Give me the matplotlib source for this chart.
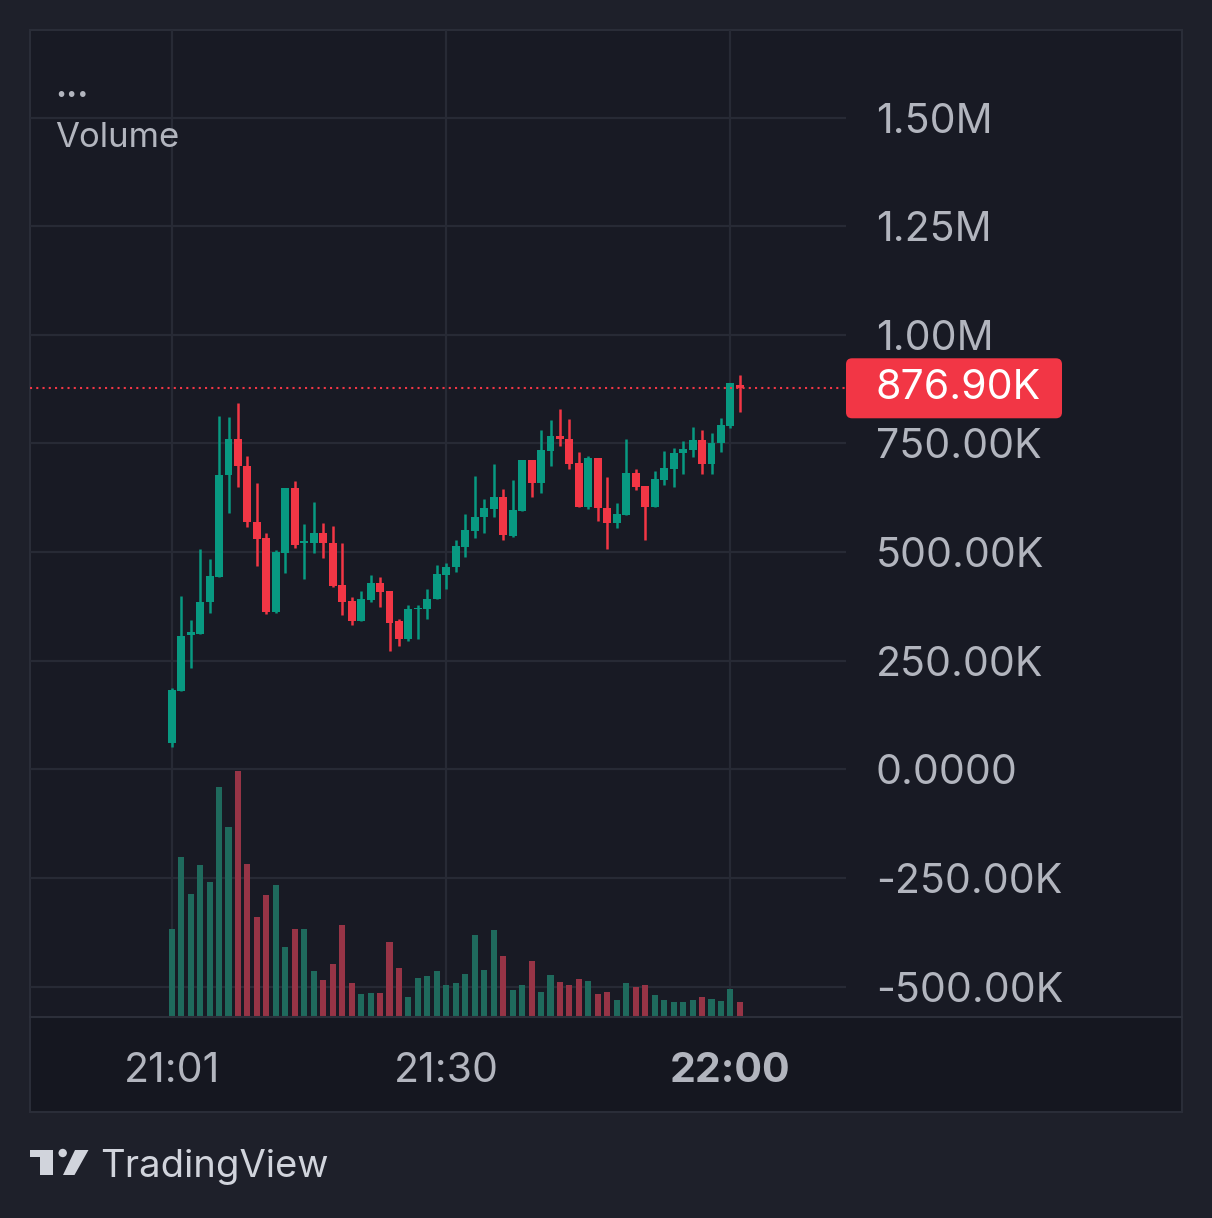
import matplotlib.pyplot as plt
import matplotlib.transforms as mtransforms
from matplotlib.patches import Rectangle, Polygon, Circle, FancyBboxPatch
from matplotlib.lines import Line2D

# 1-minute candles, 21:01 .. 22:01 (values in K)
minutes = list(range(1, 62))
opens = [61, 180, 309, 312, 384, 443, 677, 760, 698, 570,
         533, 362, 497, 647, 520, 521, 543, 520, 424, 388,
         342, 389, 429, 410, 342, 299, 368, 369, 392, 447,
         466, 512, 549, 580, 599, 626, 538, 595, 712, 660,
         733, 767, 760, 704, 604, 716, 602, 567, 585, 683,
         652, 603, 666, 691, 727, 735, 758, 703, 750, 790,
         885]
highs = [186, 399, 343, 506, 483, 813, 810, 844, 721, 658,
         543, 505, 647, 664, 564, 616, 568, 561, 521, 397,
         410, 447, 442, 410, 347, 378, 378, 416, 470, 474,
         528, 588, 675, 622, 703, 644, 666, 712, 712, 781,
         804, 829, 806, 730, 720, 716, 672, 612, 760, 690,
         652, 687, 733, 739, 756, 787, 781, 773, 808, 889,
         908]
lows = [51, 180, 234, 312, 359, 443, 590, 650, 557, 468,
        357, 360, 452, 510, 439, 498, 487, 420, 355, 332,
        342, 385, 373, 273, 283, 296, 301, 347, 392, 416,
        455, 488, 532, 544, 581, 528, 535, 595, 627, 637,
        698, 743, 691, 604, 600, 572, 508, 555, 585, 643,
        528, 603, 654, 650, 680, 718, 680, 680, 731, 785,
        823]
closes = [182, 306, 315, 384, 445, 677, 760, 698, 570, 530,
          362, 499, 647, 516, 525, 543, 520, 422, 385, 342,
          391, 428, 408, 337, 301, 370, 372, 393, 449, 466,
          514, 551, 580, 601, 626, 539, 597, 712, 660, 735,
          766, 760, 703, 604, 717, 601, 567, 588, 683, 649,
          603, 668, 693, 729, 737, 758, 703, 752, 793, 889,
          876.9]
volume = [88, 160, 123, 152, 135, 230, 190, 246, 153, 100,
          122, 132, 70, 88, 88, 46, 37, 53, 92, 34,
          23, 24, 24, 75, 49, 20, 39, 41, 46, 32,
          34, 43, 82, 47, 87, 61, 27, 32, 56, 25,
          42, 35, 32, 38, 36, 23, 25, 17, 34, 30,
          32, 22, 17, 15, 15, 17, 20, 18, 16, 28,
          15]

price_ticks = [1500, 1250, 1000, 750, 500, 250, 0, -250, -500]
price_labels = ['1.50M', '1.25M', '1.00M', '750.00K', '500.00K', '250.00K',
                '0.0000', '-250.00K', '-500.00K']
time_ticks = [1, 30, 60]
time_labels = ['21:01', '21:30', '22:00']
last_label = '876.90K'

UP, DOWN = '#089981', '#f23645'
VOL_UP, VOL_DOWN = '#1f6a5d', '#973446'
TXT = '#b2b5be'
GRID = '#272a35'

plt.rcParams['font.family'] = ['Inter', 'DejaVu Sans']

W, H = 1212, 1218
def fx(x):
    return x / W
def fy(y):
    return 1 - y / H

fig = plt.figure(figsize=(W / 100, H / 100), dpi=100, facecolor='#1e202a')

# chart panel and time-axis strip
fig.add_artist(Rectangle((fx(30), fy(1112)), fx(1182) - fx(30), fy(30) - fy(1112),
                         transform=fig.transFigure, facecolor='#181a24',
                         edgecolor='#2a2d38', lw=1.5, zorder=-2))
fig.add_artist(Rectangle((fx(31), fy(1111)), fx(1181) - fx(31), fy(1017) - fy(1111),
                         transform=fig.transFigure, facecolor='#151720',
                         edgecolor='none', zorder=-1))
fig.add_artist(Line2D([fx(30), fx(1182)], [fy(1017), fy(1017)],
                      transform=fig.transFigure, color='#2c2f3a', lw=1.5))

rect = [fx(30), fy(1017), fx(846) - fx(30), fy(30) - fy(1017)]
gax = fig.add_axes(rect)
vax = fig.add_axes(rect, sharex=gax)
ax = fig.add_axes(rect, sharex=gax, sharey=gax)
for a in (gax, vax, ax):
    a.patch.set_visible(False)
    for s in a.spines.values():
        s.set_visible(False)

up = [c >= o for o, c in zip(opens, closes)]
colors = [UP if u else DOWN for u in up]
vcolors = [VOL_UP if u else VOL_DOWN for u in up]

# volume
vax.bar(minutes, volume, width=0.64, color=vcolors, linewidth=0)
vax.set_ylim(0, max(volume) / 0.249)
vax.axis('off')

# candles
ax.vlines(minutes, lows, highs, colors=colors, lw=1.8)
ax.bar(minutes, [abs(c - o) for o, c in zip(opens, closes)],
       bottom=[min(o, c) for o, c in zip(opens, closes)],
       width=0.84, color=colors, linewidth=0)

ax.set_xlim(-13.96, 72.2)
ax.set_ylim(-570.1, 1701.5)
ax.set_yticks(price_ticks, price_labels)
ax.set_xticks(time_ticks, time_labels)
ax.yaxis.tick_right()
ax.tick_params(axis='y', length=0, pad=21.5, labelsize=29.5, labelcolor=TXT)
ax.tick_params(axis='x', length=0, pad=25, labelsize=29.5, labelcolor=TXT)
ax.get_xticklabels()[2].set_fontweight('bold')

gax.tick_params(which='both', length=0, labelleft=False, labelbottom=False,
                labelright=False)
gax.grid(True, color=GRID, lw=1.6)

# last price line and label
last = closes[-1]
ax.axhline(last, color=DOWN, lw=1.5, linestyle=(0, (1, 2)), dash_capstyle='butt')
yc = ax.transData.transform((0, last))[1]
fig.add_artist(FancyBboxPatch((846, yc - 30), 216, 60,
                              boxstyle='round,pad=0,rounding_size=6',
                              transform=mtransforms.IdentityTransform(),
                              facecolor=DOWN, edgecolor='none', zorder=4))
fig.text(876, yc, last_label, transform=mtransforms.IdentityTransform(),
         ha='left', va='center', fontsize=29.5, color='white', zorder=5)

# legend text
fig.text(fx(55), fy(97), '...', fontsize=24, color=TXT, fontweight='bold')
fig.text(fx(55), fy(147), 'Volume', fontsize=25, color=TXT, va='baseline')

# TradingView logo
LOGO = '#d1d4dc'
fig.add_artist(Polygon([(fx(30), fy(1150)), (fx(53), fy(1150)), (fx(53), fy(1175)),
                        (fx(40), fy(1175)), (fx(40), fy(1157)), (fx(30), fy(1157))],
                       closed=True, transform=fig.transFigure, facecolor=LOGO,
                       edgecolor='none'))
fig.add_artist(Circle((62.7, H - 1153), 4.2, transform=mtransforms.IdentityTransform(),
                      facecolor=LOGO, edgecolor='none'))
fig.add_artist(Polygon([(fx(75), fy(1150)), (fx(88.5), fy(1150)), (fx(74.5), fy(1175)),
                        (fx(63), fy(1175))],
                       closed=True, transform=fig.transFigure, facecolor=LOGO,
                       edgecolor='none'))
fig.text(fx(100), fy(1177), 'TradingView', fontsize=27.5, color=LOGO, va='baseline')

fig.savefig('out.png', dpi=100, facecolor=fig.get_facecolor())
